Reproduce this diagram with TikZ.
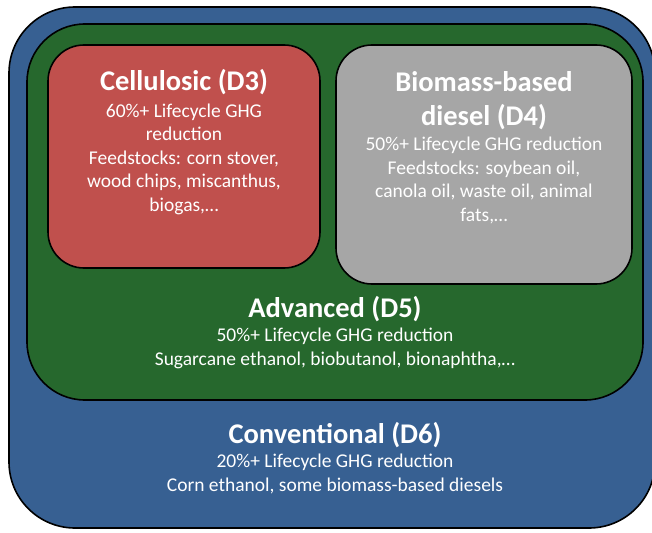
\documentclass[tikz,border=0pt]{standalone}
\usepackage{fontspec}
\setmainfont{Carlito}
\usetikzlibrary{positioning}

\definecolor{convblue}{RGB}{55,96,146}
\definecolor{advgreen}{RGB}{38,104,45}
\definecolor{cellred}{RGB}{192,80,77}
\definecolor{dieselgray}{RGB}{166,166,166}

\tikzset{
  rfsbox/.style = {draw=black, line width=1.6pt, inner sep=0pt},
  rfshead/.style = {text=white, align=center, inner sep=0pt,
    font=\fontsize{28.5}{34}\selectfont\bfseries},
  rfsbody/.style = {text=white, align=center, inner sep=0pt,
    font=\fontsize{19.5}{23.5}\selectfont}
}

\begin{document}
\begin{tikzpicture}[x=1pt, y=1pt]
    \useasboundingbox (0,0) rectangle (652,-532);

    % nested boxes
    \node[rfsbox, fill=convblue, rounded corners=66pt,
      minimum width=646pt, minimum height=521pt] (d6) at (332,-267.5) {};
    \node[rfsbox, fill=advgreen, rounded corners=58pt,
      minimum width=616pt, minimum height=376pt] (d5) at (335,-212) {};
    \node[rfsbox, fill=cellred, rounded corners=36pt,
      minimum width=272pt, minimum height=223pt] (d3) at (184,-156.5) {};
    \node[rfsbox, fill=dieselgray, rounded corners=36pt,
      minimum width=296pt, minimum height=239pt] (d4) at (484,-164.5) {};

    % texts
    \node[rfshead, below=25pt of d3.north] (d3head) {Cellulosic (D3)};
    \node[rfsbody, below=59.5pt of d3.north] (d3body)
      {60\%+ Lifecycle GHG\\ reduction\\ Feedstocks: corn stover,\\
       wood chips, miscanthus,\\ biogas,\ldots};

    \node[rfshead, below=27pt of d4.north] (d4head) {Biomass-based\\ diesel (D4)};
    \node[rfsbody, below=93pt of d4.north] (d4body)
      {50\%+ Lifecycle GHG reduction\\ Feedstocks: soybean oil,\\
       canola oil, waste oil, animal\\ fats,\ldots};

    \node[rfshead, below=273pt of d5.north] (d5head) {Advanced (D5)};
    \node[rfsbody, below=305pt of d5.north] (d5body)
      {50\%+ Lifecycle GHG reduction\\ Sugarcane ethanol, biobutanol, bionaphtha,\ldots};

    \node[rfshead, below=21pt of d5.south] (d6head) {Conventional (D6)};
    \node[rfsbody, below=53pt of d5.south] (d6body)
      {20\%+ Lifecycle GHG reduction\\ Corn ethanol, some biomass-based diesels};
\end{tikzpicture}
\end{document}
